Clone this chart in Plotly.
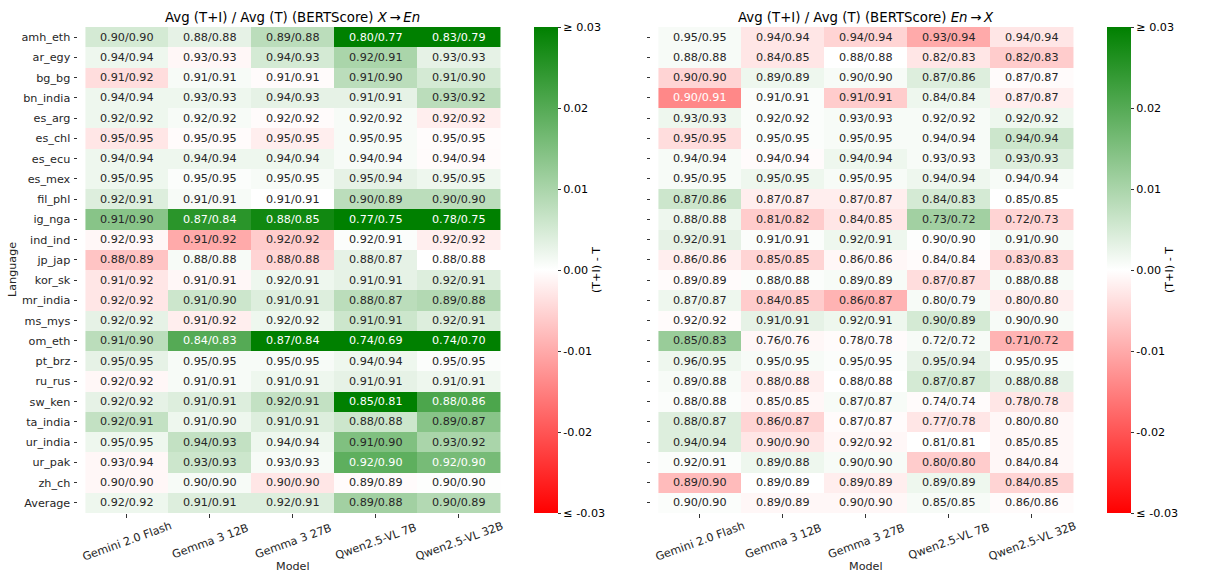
import plotly.graph_objects as go

languages = ["amh_eth", "ar_egy", "bg_bg", "bn_india", "es_arg", "es_chl", "es_ecu", "es_mex",
             "fil_phl", "ig_nga", "ind_ind", "jp_jap", "kor_sk", "mr_india", "ms_mys", "om_eth",
             "pt_brz", "ru_rus", "sw_ken", "ta_india", "ur_india", "ur_pak", "zh_ch", "Average"]
models = ["Gemini 2.0 Flash", "Gemma 3 12B", "Gemma 3 27B", "Qwen2.5-VL 7B", "Qwen2.5-VL 32B"]

# X -> En : Avg(T+I), Avg(T), and (T+I) - T
xen_ti = [
    [0.90, 0.88, 0.89, 0.80, 0.83], [0.94, 0.93, 0.94, 0.92, 0.93], [0.91, 0.91, 0.91, 0.91, 0.91],
    [0.94, 0.93, 0.94, 0.91, 0.93], [0.92, 0.92, 0.92, 0.92, 0.92], [0.95, 0.95, 0.95, 0.95, 0.95],
    [0.94, 0.94, 0.94, 0.94, 0.94], [0.95, 0.95, 0.95, 0.95, 0.95], [0.92, 0.91, 0.91, 0.90, 0.90],
    [0.91, 0.87, 0.88, 0.77, 0.78], [0.92, 0.91, 0.92, 0.92, 0.92], [0.88, 0.88, 0.88, 0.88, 0.88],
    [0.91, 0.91, 0.92, 0.91, 0.92], [0.92, 0.91, 0.91, 0.88, 0.89], [0.92, 0.91, 0.92, 0.91, 0.92],
    [0.91, 0.84, 0.87, 0.74, 0.74], [0.95, 0.95, 0.95, 0.94, 0.95], [0.92, 0.91, 0.91, 0.91, 0.91],
    [0.92, 0.91, 0.92, 0.85, 0.88], [0.92, 0.91, 0.91, 0.88, 0.89], [0.95, 0.94, 0.94, 0.91, 0.93],
    [0.93, 0.93, 0.93, 0.92, 0.92], [0.90, 0.90, 0.90, 0.89, 0.90], [0.92, 0.91, 0.92, 0.89, 0.90],
]
xen_t = [
    [0.90, 0.88, 0.88, 0.77, 0.79], [0.94, 0.93, 0.93, 0.91, 0.93], [0.92, 0.91, 0.91, 0.90, 0.90],
    [0.94, 0.93, 0.93, 0.91, 0.92], [0.92, 0.92, 0.92, 0.92, 0.92], [0.95, 0.95, 0.95, 0.95, 0.95],
    [0.94, 0.94, 0.94, 0.94, 0.94], [0.95, 0.95, 0.95, 0.94, 0.95], [0.91, 0.91, 0.91, 0.89, 0.90],
    [0.90, 0.84, 0.85, 0.75, 0.75], [0.93, 0.92, 0.92, 0.91, 0.92], [0.89, 0.88, 0.88, 0.87, 0.88],
    [0.92, 0.91, 0.91, 0.91, 0.91], [0.92, 0.90, 0.91, 0.87, 0.88], [0.92, 0.92, 0.92, 0.91, 0.91],
    [0.90, 0.83, 0.84, 0.69, 0.70], [0.95, 0.95, 0.95, 0.94, 0.95], [0.92, 0.91, 0.91, 0.91, 0.91],
    [0.92, 0.91, 0.91, 0.81, 0.86], [0.91, 0.90, 0.91, 0.88, 0.87], [0.95, 0.93, 0.94, 0.90, 0.92],
    [0.94, 0.93, 0.93, 0.90, 0.90], [0.90, 0.90, 0.90, 0.89, 0.90], [0.92, 0.91, 0.91, 0.88, 0.89],
]
xen_diff = [
    [0.005, 0.003, 0.008, 0.034, 0.040], [0.002, -0.001, 0.005, 0.010, 0.003], [-0.004, 0.001, -0.0005, 0.008, 0.005],
    [0.002, 0.002, 0.003, 0.003, 0.008], [0.002, 0.001, -0.0005, 0.001, -0.002], [-0.003, -0.0005, -0.002, 0.001, -0.0003],
    [0.002, 0.002, 0.002, 0.001, -0.0005], [0.002, 0.0005, 0.001, 0.003, 0.002], [0.004, 0.001, 0.0, 0.008, 0.008],
    [0.014, 0.025, 0.028, 0.032, 0.036], [-0.001, -0.010, -0.006, 0.0005, -0.002], [-0.007, 0.001, -0.005, 0.003, 0.0],
    [-0.003, -0.001, 0.002, 0.003, 0.004], [-0.003, 0.006, 0.004, 0.008, 0.009], [0.003, -0.002, 0.002, 0.006, 0.004],
    [0.008, 0.020, 0.031, 0.050, 0.040], [0.003, 0.001, 0.001, 0.002, 0.0005], [-0.001, 0.001, 0.002, 0.003, 0.002],
    [0.003, 0.004, 0.007, 0.036, 0.021], [0.007, 0.002, 0.004, 0.006, 0.014], [0.002, 0.007, 0.002, 0.015, 0.010],
    [-0.001, 0.006, 0.001, 0.019, 0.016], [-0.001, 0.001, -0.003, -0.0005, 0.0002], [0.002, 0.004, 0.004, 0.011, 0.009],
]

# En -> X : Avg(T+I), Avg(T), and (T+I) - T
enx_ti = [
    [0.95, 0.94, 0.94, 0.93, 0.94], [0.88, 0.84, 0.88, 0.82, 0.82], [0.90, 0.89, 0.90, 0.87, 0.87],
    [0.90, 0.91, 0.91, 0.84, 0.87], [0.93, 0.92, 0.93, 0.92, 0.92], [0.95, 0.95, 0.95, 0.94, 0.94],
    [0.94, 0.94, 0.94, 0.93, 0.93], [0.95, 0.95, 0.95, 0.94, 0.94], [0.87, 0.87, 0.87, 0.84, 0.85],
    [0.88, 0.81, 0.84, 0.73, 0.72], [0.92, 0.91, 0.92, 0.90, 0.91], [0.86, 0.85, 0.86, 0.84, 0.83],
    [0.89, 0.88, 0.89, 0.87, 0.88], [0.87, 0.84, 0.86, 0.80, 0.80], [0.92, 0.91, 0.92, 0.90, 0.90],
    [0.85, 0.76, 0.78, 0.72, 0.71], [0.96, 0.95, 0.95, 0.95, 0.95], [0.89, 0.88, 0.88, 0.87, 0.88],
    [0.88, 0.85, 0.87, 0.74, 0.78], [0.88, 0.86, 0.87, 0.77, 0.80], [0.94, 0.90, 0.92, 0.81, 0.85],
    [0.92, 0.89, 0.90, 0.80, 0.84], [0.89, 0.89, 0.89, 0.89, 0.84], [0.90, 0.89, 0.90, 0.85, 0.86],
]
enx_t = [
    [0.95, 0.94, 0.94, 0.94, 0.94], [0.88, 0.85, 0.88, 0.83, 0.83], [0.90, 0.89, 0.90, 0.86, 0.87],
    [0.91, 0.91, 0.91, 0.84, 0.87], [0.93, 0.92, 0.93, 0.92, 0.92], [0.95, 0.95, 0.95, 0.94, 0.94],
    [0.94, 0.94, 0.94, 0.93, 0.93], [0.95, 0.95, 0.95, 0.94, 0.94], [0.86, 0.87, 0.87, 0.83, 0.85],
    [0.88, 0.82, 0.85, 0.72, 0.73], [0.91, 0.91, 0.91, 0.90, 0.90], [0.86, 0.85, 0.86, 0.84, 0.83],
    [0.89, 0.88, 0.89, 0.87, 0.88], [0.87, 0.85, 0.87, 0.79, 0.80], [0.92, 0.91, 0.91, 0.89, 0.90],
    [0.83, 0.76, 0.78, 0.72, 0.72], [0.95, 0.95, 0.95, 0.94, 0.95], [0.88, 0.88, 0.88, 0.87, 0.88],
    [0.88, 0.85, 0.87, 0.74, 0.78], [0.87, 0.87, 0.87, 0.78, 0.80], [0.94, 0.90, 0.92, 0.81, 0.85],
    [0.91, 0.88, 0.90, 0.80, 0.84], [0.90, 0.89, 0.89, 0.89, 0.85], [0.90, 0.89, 0.90, 0.85, 0.86],
]
enx_diff = [
    [0.001, -0.003, -0.005, -0.010, -0.003], [0.001, -0.003, 0.0, -0.003, -0.006], [-0.005, 0.002, 0.001, 0.004, -0.0005],
    [-0.014, 0.0005, -0.006, 0.002, -0.002], [0.002, 0.0005, 0.001, 0.001, 0.002], [-0.004, 0.0005, 0.001, 0.001, 0.006],
    [0.001, -0.0005, 0.002, 0.001, 0.004], [0.001, 0.002, 0.001, 0.002, 0.001], [0.006, -0.002, -0.002, 0.005, 0.0],
    [0.002, -0.006, -0.003, 0.011, -0.005], [0.003, 0.0005, 0.002, 0.0002, 0.001], [-0.002, -0.005, -0.001, -0.0005, -0.005],
    [-0.0005, 0.0005, 0.001, -0.004, 0.001], [0.002, -0.006, -0.009, 0.001, -0.002], [-0.0005, 0.003, 0.002, 0.005, 0.001],
    [0.012, -0.001, -0.0005, 0.001, -0.009], [0.002, 0.001, 0.0005, 0.003, 0.0005], [0.001, -0.002, 0.0, 0.005, 0.003],
    [0.0005, -0.001, 0.001, -0.0005, -0.003], [0.004, -0.005, -0.0005, -0.003, -0.001], [0.004, -0.003, -0.001, 0.0, -0.001],
    [0.0005, 0.002, 0.001, -0.006, -0.001], [-0.008, 0.0, -0.002, 0.002, -0.005], [0.0005, -0.001, -0.001, 0.001, -0.0005],
]

ZMAX = 0.03
colorscale = [[0.0, "#ff0000"], [0.5, "#ffffff"], [1.0, "#008000"]]
FONT = "DejaVu Sans"
DARK = "#262626"

# layout in pixels (figure 1205 x 574)
ML, MR, MT, MB = 78, 125, 27, 61
PW = 1205 - ML - MR
PH = 574 - MT - MB


def px_x(p):
    return (p - ML) / PW


def px_y(p):
    return (574 - MB - p) / PH


def cell_rgb(d):
    t = max(-1.0, min(1.0, d / ZMAX))
    if t >= 0:
        return (1 - t, 1 - 0.5 * t, 1 - t)
    return (1.0, 1 + t, 1 + t)


def lum(rgb):
    def lin(c):
        return c / 12.92 if c <= 0.03928 else ((c + 0.055) / 1.055) ** 2.4
    r, g, b = (lin(c) for c in rgb)
    return 0.2126 * r + 0.7152 * g + 0.0722 * b


fig = go.Figure()
panels = [
    (xen_ti, xen_t, xen_diff, "x", "y", [px_x(78), px_x(507)], px_x(534),
     "Avg (T+I) / Avg (T) (BERTScore) <i>X</i>\u2009→\u2009<i>En</i>"),
    (enx_ti, enx_t, enx_diff, "x2", "y2", [px_x(651), px_x(1080)], px_x(1107),
     "Avg (T+I) / Avg (T) (BERTScore) <i>En</i>\u2009→\u2009<i>X</i>"),
]
annotations = []
for k, (ti, t, diff, xa, ya, xdom, cbx, title) in enumerate(panels):
    fig.add_trace(go.Heatmap(
        z=diff, x=models, y=languages, xaxis=xa, yaxis=ya,
        zmin=-ZMAX, zmax=ZMAX, colorscale=colorscale, hoverinfo="skip",
        colorbar=dict(
            x=cbx, xanchor="left", xref="paper", y=1, yanchor="top", len=1,
            lenmode="fraction", thickness=24, outlinewidth=0, xpad=0, ypad=0,
            tickvals=[-0.03, -0.02, -0.01, 0.0, 0.01, 0.02, 0.03],
            ticktext=["≤ -0.03", "-0.02", "-0.01", "0.00", "0.01", "0.02", "≥ 0.03"],
            ticks="outside", ticklen=3.5, tickcolor="#333",
            tickfont=dict(family=FONT, size=11.2, color="#000"),
            title=dict(text="(T+I) - T", side="right", font=dict(family=FONT, size=11.2, color="#000")),
        ),
    ))
    for i, lang in enumerate(languages):
        for j, m in enumerate(models):
            col = "#ffffff" if lum(cell_rgb(diff[i][j])) < 0.408 else DARK
            annotations.append(dict(
                x=m, y=lang, xref=xa, yref=ya, showarrow=False,
                text=f"{ti[i][j]:.2f}/{t[i][j]:.2f}",
                font=dict(family=FONT, size=11.2, color=col),
            ))
    # rotated model labels, centred on the ticks
    for m in models:
        annotations.append(dict(
            x=m, y=px_y(541), xref=xa, yref="paper", showarrow=False, textangle=-20,
            xanchor="center", yanchor="middle", text=m,
            font=dict(family=FONT, size=11.2, color=DARK),
        ))
    annotations.append(dict(
        x=(xdom[0] + xdom[1]) / 2, y=px_y(566), xref="paper", yref="paper",
        xanchor="center", yanchor="middle", showarrow=False, text="Model",
        font=dict(family=FONT, size=11.2, color=DARK),
    ))
    annotations.append(dict(
        x=(xdom[0] + xdom[1]) / 2, y=px_y(18), xref="paper", yref="paper",
        xanchor="center", yanchor="middle", showarrow=False, text=title,
        font=dict(family=FONT, size=13.3, color="#000"),
    ))

annotations.append(dict(
    x=px_x(12), y=0.5, xref="paper", yref="paper", xanchor="center", yanchor="middle",
    showarrow=False, textangle=-90, text="Language",
    font=dict(family=FONT, size=11.2, color=DARK),
))

axis_common = dict(ticks="outside", ticklen=3.5, tickcolor="#333", showgrid=False, zeroline=False,
                   showline=False, automargin=False,
                   tickfont=dict(family=FONT, size=11.2, color=DARK))
fig.update_layout(
    width=1205, height=574, margin=dict(l=ML, r=MR, t=MT, b=MB, autoexpand=False),
    paper_bgcolor="white", plot_bgcolor="white",
    font=dict(family=FONT, color="#000"),
    annotations=annotations,
    xaxis=dict(domain=panels[0][5], anchor="y", showticklabels=False, **axis_common),
    yaxis=dict(domain=[0, 1], anchor="x", autorange="reversed", ticklabelstandoff=1, **axis_common),
    xaxis2=dict(domain=panels[1][5], anchor="y2", showticklabels=False, **axis_common),
    yaxis2=dict(domain=[0, 1], anchor="x2", autorange="reversed", showticklabels=False, **axis_common),
)

fig.write_html("out.html", config={"displayModeBar": False},
               post_script="document.body.style.margin='0';")
